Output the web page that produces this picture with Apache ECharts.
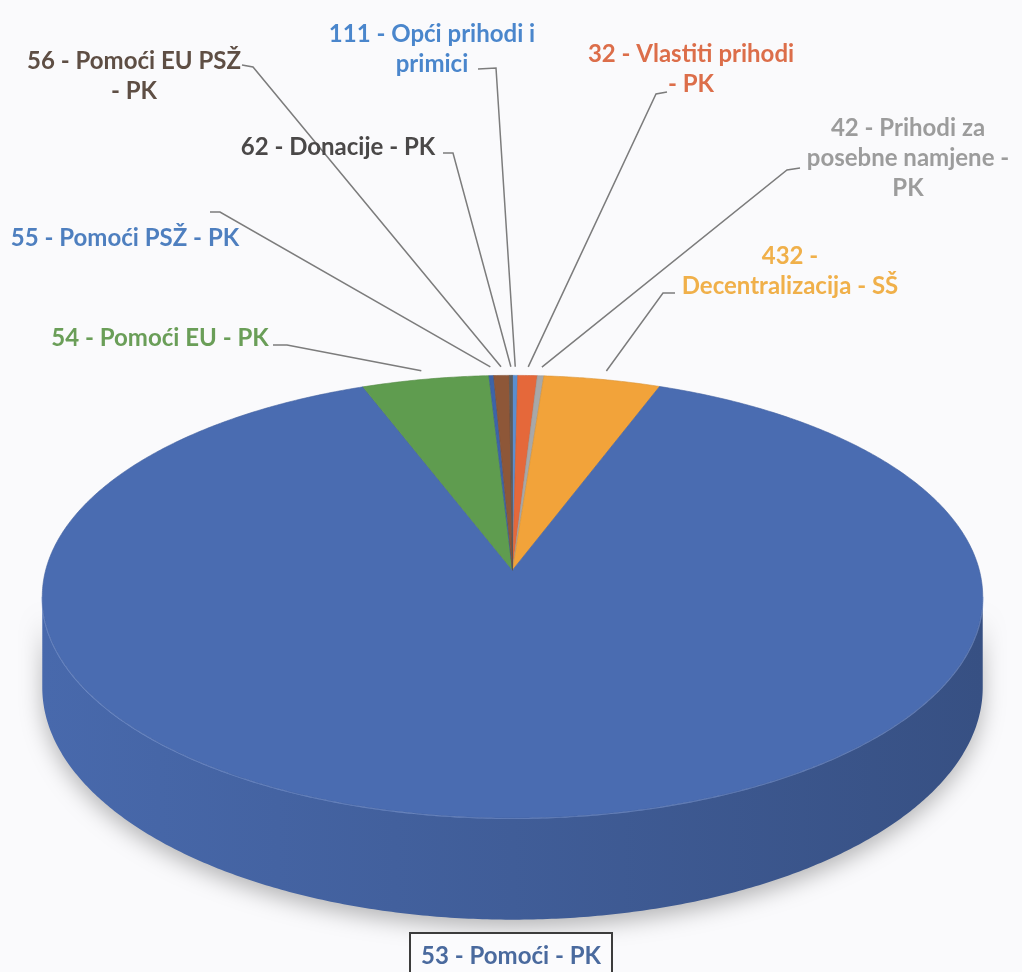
<!DOCTYPE html>
<html>
<head>
<meta charset="utf-8">
<title>Izvori financiranja</title>
<script src="https://cdn.jsdelivr.net/npm/echarts@6/dist/echarts.min.js"></script>
<style>
  html, body { margin: 0; padding: 0; background: #fafafc; }
  #pie3d { width: 1022px; height: 972px; }
</style>
</head>
<body>
<div id="pie3d"></div>
<script>
// izvori financiranja - udjeli u %
var categories = ['111 - Opći prihodi i primici', '32 - Vlastiti prihodi - PK', '42 - Prihodi za posebne namjene - PK',
    '432 - Decentralizacija - SŠ', '53 - Pomoći - PK', '54 - Pomoći EU - PK', '55 - Pomoći PSŽ - PK',
    '56 - Pomoći EU PSŽ - PK', '62 - Donacije - PK'];
var shares = [0.2, 0.75, 0.25, 4.5, 88.5, 4.9, 0.18, 0.6, 0.12];
// tekst oznaka kako je prelomljen na slici
var labelTexts = ['111 - Opći prihodi i\nprimici', '32 - Vlastiti prihodi\n- PK', '42 - Prihodi za\nposebne namjene -\nPK',
    '432 -\nDecentralizacija - SŠ', '53 - Pomoći - PK', '54 - Pomoći EU - PK', '55 - Pomoći PSŽ - PK',
    '56 - Pomoći EU PSŽ\n- PK', '62 - Donacije - PK'];

var sliceColors = ['#5a8ed0', '#e5683a', '#a8a8a8', '#f2a33a', '#4a6cb1', '#5f9c4f', '#3d64a8', '#8e5738', '#5c5c5c'];
var labelColors = ['#4a86cc', '#dc6e4a', '#9c9c9c', '#f0b04a', '#4a6a9e', '#6a9e58', '#4e7fbf', '#5e4e44', '#4a4848'];

// smještaj oznaka (px): sredina teksta, početak linije, lakat linije
var labelPlace = [
    {x: 432, y: 49, start: [478, 69], knee: [496, 68]},
    {x: 691, y: 69, start: [667, 92], knee: [656, 94]},
    {x: 908, y: 158, start: [800, 168], knee: [787, 170]},
    {x: 790, y: 271, start: [675, 293], knee: [663, 293]},
    {x: 511, y: 956, box: true},
    {x: 160, y: 338, start: [273, 345], knee: [287, 345]},
    {x: 125, y: 238, start: [210, 212], knee: [220, 212]},
    {x: 134, y: 76, start: [242, 65], knee: [253, 67]},
    {x: 338, y: 147, start: [443, 153], knee: [453, 153]}
];

var FONT = 'Lato, "Open Sans", sans-serif';
var P = 0.12;        // perspektiva
var DEPTH = 0.41;    // debljina kolača
var VIS0 = Math.acos(-P) * 180 / Math.PI, VIS1 = 360 - VIS0;

var total = shares.reduce(function (a, b) { return a + b; }, 0);
var sliceData = [];
var acc = 0;
for (var i = 0; i < shares.length; i++) {
    var s = acc / total * 360;
    acc += shares[i];
    sliceData.push([i, s, acc / total * 360]);
}

// potamni boju (miješanje s crnom)
function shade(hex, f) {
    var c = echarts.color.parse(hex);
    return 'rgb(' + Math.round(c[0] * (1 - f)) + ',' + Math.round(c[1] * (1 - f)) + ',' + Math.round(c[2] * (1 - f)) + ')';
}

function proj(deg, r, drop) {
    var t = deg * Math.PI / 180;
    var w = 1 + P * r * Math.cos(t);
    return [r * Math.sin(t) / w, (-r * Math.cos(t) + (drop || 0)) / w];
}

function arc(api, s, e, r, drop) {
    var pts = [];
    var n = Math.max(2, Math.ceil((e - s) / 0.5));
    for (var k = 0; k <= n; k++) {
        pts.push(api.coord(proj(s + (e - s) * k / n, r, drop)));
    }
    return pts;
}

function renderSide(params, api) {
    var i = api.value(0);
    var s = Math.max(api.value(1), VIS0), e = Math.min(api.value(2), VIS1);
    if (e <= s) return null;
    var top = arc(api, s, e, 1, 0);
    var bot = arc(api, s, e, 1, DEPTH).reverse();
    var c = sliceColors[i];
    return {
        type: 'group',
        children: [{
            type: 'polygon',
            shape: {points: top.concat(bot)},
            style: {
                fill: new echarts.graphic.LinearGradient(0, 0, 1, 0, [
                    {offset: 0, color: shade(c, 0.03)},
                    {offset: 0.5, color: shade(c, 0.14)},
                    {offset: 1, color: shade(c, 0.26)}
                ]),
                shadowBlur: 22,
                shadowColor: 'rgba(0,0,0,0.28)',
                shadowOffsetY: 8
            }
        }, {
            type: 'polyline',
            shape: {points: top},
            style: {stroke: 'rgba(150,175,232,0.5)', lineWidth: 2, fill: null}
        }]
    };
}

function renderTop(params, api) {
    var i = api.value(0);
    var pts = [api.coord([0, 0])].concat(arc(api, api.value(1), api.value(2), 1, 0));
    return {
        type: 'polygon',
        shape: {points: pts},
        style: {fill: sliceColors[i], stroke: shade(sliceColors[i], 0.1), lineWidth: 0.6}
    };
}

function renderLabel(params, api) {
    var i = api.value(0);
    var pl = labelPlace[i];
    var kids = [];
    if (pl.box) {
        kids.push({
            type: 'rect',
            shape: {x: pl.x - 101, y: pl.y - 23, width: 202, height: 48},
            style: {fill: '#fbfbfd', stroke: '#3c3c3c', lineWidth: 2}
        });
    } else {
        var mid = (api.value(1) + api.value(2)) / 2;
        kids.push({
            type: 'polyline',
            shape: {points: [pl.start, pl.knee, api.coord(proj(mid, 1.05, 0))]},
            style: {stroke: '#7c7c7c', lineWidth: 1.5, fill: null}
        });
    }
    kids.push({
        type: 'text',
        style: {
            text: labelTexts[i], x: pl.x, y: pl.y,
            align: 'center', verticalAlign: 'middle',
            fill: labelColors[i], fontFamily: FONT, fontWeight: 'bold', fontSize: 24, lineHeight: 30
        }
    });
    return {type: 'group', children: kids};
}

var myChart = echarts.init(document.getElementById('pie3d'));
var option = {
    backgroundColor: '#fafafc',
    animation: false,
    grid: {left: 41, right: 38, top: 352, bottom: 31},
    xAxis: {type: 'value', min: -1.01, max: 1.01, show: false},
    yAxis: {type: 'value', min: -1, max: 1.7, inverse: true, show: false},
    series: [
        {type: 'custom', name: 'strana', renderItem: renderSide, data: sliceData, clip: false, z: 1, silent: true},
        {type: 'custom', name: 'vrh', renderItem: renderTop, data: sliceData, clip: false, z: 2,
            tooltip: {show: false}},
        {type: 'custom', name: 'oznake', renderItem: renderLabel, data: sliceData, clip: false, z: 3, silent: true}
    ]
};
myChart.setOption(option);
</script>
</body>
</html>
